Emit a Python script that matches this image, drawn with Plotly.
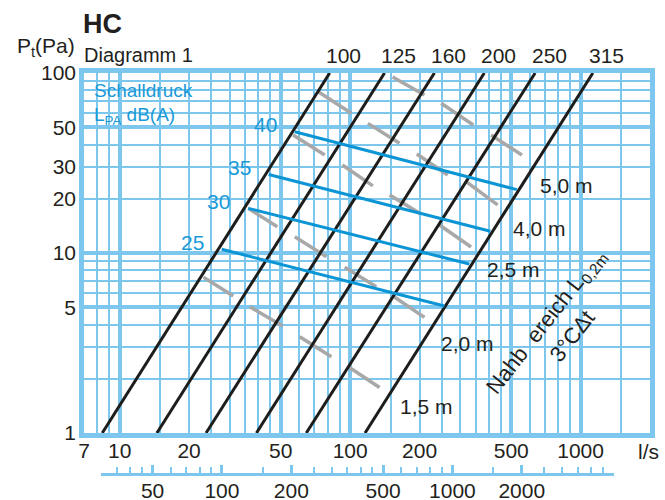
import math
import plotly.graph_objects as go

# ---------------- data ----------------
# duct diameters (mm): flow (l/s) where each characteristic line meets 1 Pa and 100 Pa
DIAMETERS = ["100", "125", "160", "200", "250", "315"]
Q_AT_1PA = [8.4, 14.5, 23.7, 39.2, 64.5, 116]
Q_AT_100PA = [81.5, 141, 232, 382, 635, 1130]

# sound pressure level lines L_PA dB(A)
DB_LEVELS = ["25", "30", "35", "40"]
DB_Q_START = [27.7, 36.1, 44.3, 57.5]
DB_P_START = [10.5, 17.7, 27.3, 47.2]
DB_Q_END = [256.5, 329, 405.8, 528.5]
DB_P_END = [5.08, 8.69, 13.2, 22.5]

# throw (near zone) marks: short grey dashes
THROW_Q_START = [73.0, 56.5, 152.8, 119.4, 248.3, 408.7, 194.6, 92.5, 318.4, 36.1,
                 57.5, 23.1, 36.7, 148.3, 244.1, 94.7, 153.2, 60.4, 97.8]
THROW_P_START = [78.4, 45.2, 95.0, 52.5, 67.9, 45.2, 35.5, 30.8, 24.9, 17.7,
                 12.3, 7.33, 5.03, 21.0, 14.3, 8.33, 5.77, 3.43, 2.34]
THROW_Q_END = [101.2, 77.6, 210.1, 163.8, 342.4, 556.6, 265.1, 125.5, 436.3, 48.3,
               78.9, 31.1, 50.9, 202.0, 334.7, 129.9, 210.1, 82.9, 134.2]
THROW_P_END = [59.7, 35.0, 75.5, 40.7, 51.4, 35.0, 27.1, 23.6, 18.5, 14.0,
               9.54, 5.77, 3.93, 16.5, 10.8, 6.50, 4.39, 2.65, 1.79]

THROW_LABELS = ["5,0 m", "4,0 m", "2,5 m", "2,0 m", "1,5 m"]
THROW_LABEL_P = [23.6, 13.6, 8.05, 3.16, 1.395]

# axes
X_RANGE = [7, 2000]
Y_RANGE = [1, 100]
X_LABEL_VALS = [7, 10, 20, 50, 100, 200, 500, 1000]
X_LABELS = ["7", "10", "20", "50", "100", "200", "500", "1000"]
X_THICK = [10, 50, 100, 500, 1000]
X_THIN = [8, 9, 15, 20, 25, 30, 35, 40, 45, 60, 70, 80, 90, 150, 200, 250, 300,
          350, 400, 450, 600, 700, 800, 900, 1500]
Y_LABEL_VALS = [1, 5, 10, 20, 30, 50, 100]
Y_LABELS = ["1", "5", "10", "20", "30", "50", "100"]
Y_THICK = [5, 10, 50]
Y_THIN = [2, 3, 4, 6, 7, 8, 9, 20, 30, 40, 60, 70, 80, 90]

M3H_RANGE = [30, 5000]
M3H_ENDS = [30, 5000]
M3H_MAJOR = [50, 100, 200, 500, 1000, 2000]
M3H_LABELS = ["50", "100", "200", "500", "1000", "2000"]
M3H_MINOR = [35, 40, 45, 60, 70, 80, 90, 150, 250, 300, 350, 400, 450, 600, 700,
             800, 900, 1500, 2500, 3000, 3500, 4000, 4500]
LS_PER_M3H = 1 / 3.6

# ---------------- style ----------------
W, H = 665, 500
ML, MR, MT, MB = 84, 14.5, 73, 27
PLOT_BOTTOM_PX = 433
GRID = "#7dc6ee"
BLUE_LINE = "#0b95d5"
BLUE_TEXT = "#1a9ad7"
BLACK = "#1d1d1b"
GRAY = "#a8a8a8"
TXT = "#231f20"
FONT = "Liberation Sans, Arial, sans-serif"

pw = W - ML - MR
ph = H - MT - MB


def px2paper(x, y):
    return (x - ML) / pw, (H - MB - y) / ph


y_dom0 = (H - MB - PLOT_BOTTOM_PX) / ph
lx0, lx1 = math.log10(X_RANGE[0]), math.log10(X_RANGE[1])


def xfrac_m3h(v):
    return (math.log10(v * LS_PER_M3H) - lx0) / (lx1 - lx0)


fig = go.Figure()

# grey throw dashes
gx, gy = [], []
for qs, ps, qe, pe in zip(THROW_Q_START, THROW_P_START, THROW_Q_END, THROW_P_END):
    gx += [qs, qe, None]
    gy += [ps, pe, None]
fig.add_trace(go.Scatter(x=gx, y=gy, mode="lines", line=dict(color=GRAY, width=3.5),
                         hoverinfo="skip", showlegend=False))

# black diameter lines
for name, q1, q100 in zip(DIAMETERS, Q_AT_1PA, Q_AT_100PA):
    fig.add_trace(go.Scatter(x=[q1, q100], y=[1, 100], mode="lines",
                             line=dict(color=BLACK, width=3), name=name,
                             hoverinfo="skip", showlegend=False))

# blue dB lines
for name, qs, ps, qe, pe in zip(DB_LEVELS, DB_Q_START, DB_P_START, DB_Q_END, DB_P_END):
    fig.add_trace(go.Scatter(x=[qs, qe], y=[ps, pe], mode="lines",
                             line=dict(color=BLUE_LINE, width=3), name=name,
                             hoverinfo="skip", showlegend=False))

# dummy traces so overlay / secondary axes exist
for xa, ya, yv in [("x3", "y", 10), ("x", "y2", 10), ("x2", "y3", 0.5), ("x4", "y3", 0.5)]:
    fig.add_trace(go.Scatter(x=[100], y=[yv], xaxis=xa, yaxis=ya, mode="markers",
                             marker=dict(opacity=0), hoverinfo="skip", showlegend=False))

tickfont = dict(family=FONT, size=21, color=TXT)
logr = lambda r: [math.log10(r[0]), math.log10(r[1])]
m3h_dom = [xfrac_m3h(M3H_RANGE[0]), xfrac_m3h(M3H_RANGE[1])]

fig.update_layout(
    width=W, height=H, template="none",
    margin=dict(l=ML, r=MR, t=MT, b=MB, pad=0),
    paper_bgcolor="white", plot_bgcolor="rgba(0,0,0,0)",
    showlegend=False, font=dict(family=FONT, color=TXT, size=21),
    xaxis=dict(type="log", range=logr(X_RANGE), domain=[0, 1], anchor="y",
               tickmode="array", tickvals=X_THICK, showticklabels=False, ticks="",
               showgrid=True, gridcolor=GRID, gridwidth=4,
               minor=dict(tickmode="array", tickvals=X_THIN, showgrid=True,
                          gridcolor=GRID, gridwidth=1.6, ticks=""),
               showline=True, linecolor=GRID, linewidth=4.5, mirror=True,
               zeroline=False, automargin=False, fixedrange=True),
    xaxis3=dict(type="log", range=logr(X_RANGE), overlaying="x", anchor="y", side="bottom",
                tickmode="array", tickvals=X_LABEL_VALS, ticktext=X_LABELS,
                showgrid=False, showline=False, ticks="", zeroline=False,
                tickfont=tickfont, ticklabelstandoff=3, automargin=False),
    yaxis=dict(type="log", range=logr(Y_RANGE), domain=[y_dom0, 1], anchor="x",
               tickmode="array", tickvals=Y_THICK, showticklabels=False, ticks="",
               showgrid=True, gridcolor=GRID, gridwidth=4,
               minor=dict(tickmode="array", tickvals=Y_THIN, showgrid=True,
                          gridcolor=GRID, gridwidth=1.6, ticks=""),
               showline=True, linecolor=GRID, linewidth=4.5, mirror=True,
               zeroline=False, automargin=False, fixedrange=True),
    yaxis2=dict(type="log", range=logr(Y_RANGE), overlaying="y", anchor="x", side="left",
                tickmode="array", tickvals=Y_LABEL_VALS, ticktext=Y_LABELS,
                showgrid=False, showline=False, ticks="", zeroline=False,
                tickfont=tickfont, ticklabelstandoff=7, automargin=False),
    xaxis2=dict(type="log", range=logr(M3H_RANGE), domain=m3h_dom,
                anchor="y3", side="bottom", showline=True, linecolor=GRID, linewidth=3,
                tickmode="array", tickvals=M3H_MAJOR, ticktext=M3H_LABELS,
                ticks="inside", ticklen=8, tickwidth=3, tickcolor=GRID,
                minor=dict(tickmode="array", tickvals=M3H_MINOR, ticks="inside",
                           ticklen=6, tickwidth=1.5, tickcolor=GRID, showgrid=False),
                showgrid=False, zeroline=False, tickfont=tickfont,
                ticklabelstandoff=-3, automargin=False),
    xaxis4=dict(type="log", range=logr(M3H_RANGE), domain=m3h_dom,
                anchor="y3", side="bottom", showline=False,
                tickmode="array", tickvals=M3H_ENDS, showticklabels=False,
                ticks="inside", ticklen=10, tickwidth=3, tickcolor=GRID,
                showgrid=False, zeroline=False, automargin=False),
    yaxis3=dict(domain=[0, 0.05], anchor="x2", range=[0, 1], visible=False),
)

ann = []


def paper_text(text, x, y, size=21, color=TXT, xanchor="left", yanchor="middle", angle=0):
    xp, yp = px2paper(x, y)
    ann.append(dict(text=text, x=xp, y=yp, xref="paper", yref="paper", showarrow=False,
                    xanchor=xanchor, yanchor=yanchor, textangle=angle,
                    font=dict(family=FONT, size=size, color=color)))


paper_text("<b>HC</b>", 81, 24, size=27)
paper_text("Diagramm 1", 82, 55, size=20)
paper_text("P<sub>t</sub>(Pa)", 77, 47, size=21, xanchor="right")
paper_text("Schalldruck", 92, 90, size=19, color=BLUE_TEXT)
paper_text("L<sub>PA</sub> dB(A)", 92, 116, size=19, color=BLUE_TEXT)
paper_text("l/s", 649, 451, size=21, xanchor="center")
paper_text("Nahb&nbsp;&nbsp;ereich L<sub>0,2m</sub>", 547, 322, size=22, xanchor="center", angle=-52)
paper_text("3°CΔt", 572, 336, size=22, xanchor="center", angle=-52)

# diameter labels above the lines
yp_top = px2paper(0, 55)[1]
for name, q100 in zip(DIAMETERS, Q_AT_100PA):
    ann.append(dict(text=name, x=math.log10(q100), y=yp_top, xref="x", yref="paper",
                    showarrow=False, xanchor="center", yanchor="middle", xshift=14,
                    font=dict(family=FONT, size=21, color=TXT)))

# dB labels at line starts
for name, qs, ps in zip(DB_LEVELS, DB_Q_START, DB_P_START):
    ann.append(dict(text=name, x=math.log10(qs), y=math.log10(ps), xref="x", yref="y",
                    showarrow=False, xanchor="right", yanchor="middle", xshift=-16, yshift=7,
                    font=dict(family=FONT, size=21, color=BLUE_TEXT)))

# throw labels right of the 315 line
lq1, lq100 = math.log10(Q_AT_1PA[-1]), math.log10(Q_AT_100PA[-1])
for name, p in zip(THROW_LABELS, THROW_LABEL_P):
    lq = lq1 + (math.log10(p) / 2) * (lq100 - lq1)
    ann.append(dict(text=name, x=lq, y=math.log10(p), xref="x", yref="y",
                    showarrow=False, xanchor="left", yanchor="middle", xshift=17,
                    font=dict(family=FONT, size=21, color=TXT)))

fig.update_layout(annotations=ann)
fig.write_html("out.html", config={"displayModeBar": False},
               post_script="document.body.style.margin='0px';")
